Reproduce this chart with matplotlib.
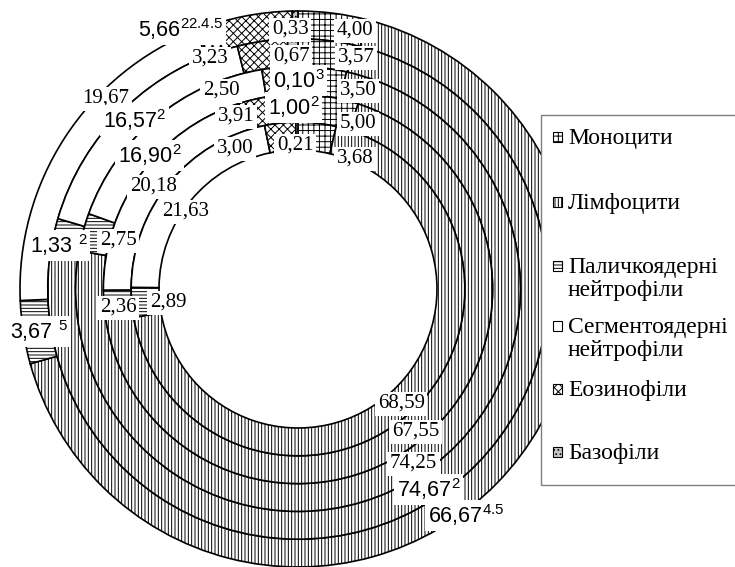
import matplotlib
matplotlib.use('Agg')
import matplotlib.pyplot as plt
from matplotlib.patches import Rectangle

plt.rcParams['mathtext.fontset'] = 'custom'
plt.rcParams['mathtext.rm'] = 'Liberation Sans'
plt.rcParams['mathtext.it'] = 'Liberation Sans:italic'
plt.rcParams['hatch.linewidth'] = 0.7
plt.rcParams['hatch.color'] = '#3a3a3a'

# categories in clockwise order starting at 12 o'clock
categories = ['Моноцити', 'Лімфоцити', 'Паличкоядерні\nнейтрофіли',
              'Сегментоядерні\nнейтрофіли', 'Еозинофіли', 'Базофіли']

# ring values, outer ring first
ring1 = [4.00, 66.67, 3.67, 19.67, 5.66, 0.33]
ring2 = [3.57, 74.67, 1.33, 16.57, 3.23, 0.67]
ring3 = [3.50, 74.25, 2.75, 16.90, 2.50, 0.10]
ring4 = [5.00, 67.55, 2.36, 20.18, 3.91, 1.00]
ring5 = [3.68, 68.59, 2.89, 21.63, 3.00, 0.21]

# superscript marks written next to some values
marks1 = ['', '4.5', ' 5', '', '22.4.5', '']
marks2 = ['', '2', ' 2', '2', '', '']
marks3 = ['', '', '', '2', '', '3']
marks4 = ['', '', '', '', '', '2']
marks5 = ['', '', '', '', '', '']

rings = [ring1, ring2, ring3, ring4, ring5]
marks = [marks1, marks2, marks3, marks4, marks5]

# styling per category
fills = ['white', 'white', 'white', 'white', 'white', '#c8c8c8']
hatches = ['+++', '|||||', '-----', '', 'xxxx', '....']

# label anchor (left x, baseline y) in pixels, same order as the rings
label_pos = [
    [(337, 35), (428, 523), (10, 339), (82, 103), (138, 37), (272, 34)],
    [(338, 62), (397, 497), (30, 253), (103, 128), (192, 63), (273, 61)],
    [(340, 95), (390, 468), (100, 245), (118, 163), (203, 95), (273, 88)],
    [(340, 128), (392, 436), (100, 312), (130, 191), (218, 121), (268, 115)],
    [(337, 163), (378, 408), (150, 307), (162, 216), (217, 153), (277, 150)],
]
legend_base = [144, 209, 273, 333, 396, 459]

W, H = 735, 567
fig = plt.figure(figsize=(W / 100, H / 100), dpi=100)
ax = fig.add_axes([0, 0, 1, 1])

cx, cy = 298, 289
r_out, width = 278, 27.8
for i, vals in enumerate(rings):
    ax.pie(vals, radius=r_out - i * width, center=(cx, cy),
           startangle=-90, counterclock=True,
           colors=fills, hatch=hatches,
           wedgeprops=dict(width=width, edgecolor='black', linewidth=1.2))

box = dict(boxstyle='square,pad=0.12', fc='white', ec='none')
for vals, mk, pos in zip(rings, marks, label_pos):
    for v, m, (x, y) in zip(vals, mk, pos):
        s = f'{v:.2f}'.replace('.', ',')
        if m:
            if m.startswith(' '):
                s += ' '
            s += r'$^{\mathrm{' + m.strip() + '}}$'
            ax.text(x, y, s, ha='left', va='baseline', fontsize=15.5,
                    family='Liberation Sans', bbox=box, zorder=6)
        else:
            ax.text(x, y, s, ha='left', va='baseline', fontsize=15,
                    family='Liberation Serif', bbox=box, zorder=6)

# legend box
ax.add_patch(Rectangle((541, 115), 200, 370, fc='white', ec='#7f7f7f',
                       lw=1, zorder=7))
for name, base, fc, ht in zip(categories, legend_base, fills, hatches):
    ax.add_patch(Rectangle((553, base - 12.5), 9.5, 10, fc=fc, hatch=ht,
                           ec='black', lw=0.8, zorder=8))
    for k, line in enumerate(name.split('\n')):
        ax.text(568, base + 23 * k, line, ha='left', va='baseline',
                fontsize=17, family='Liberation Serif', zorder=8)

ax.set_xlim(0, W)
ax.set_ylim(H, 0)
ax.set_aspect('equal')
ax.axis('off')

fig.savefig('out.png', dpi=100, facecolor='white')
